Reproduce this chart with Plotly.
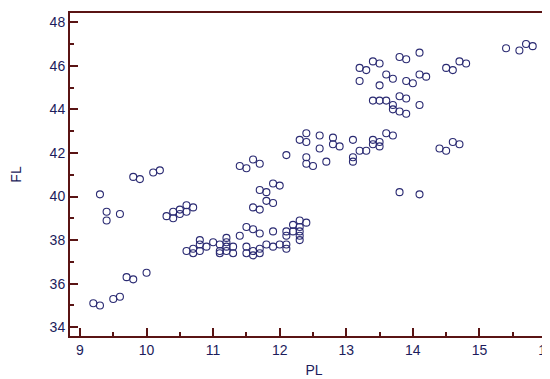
import plotly.graph_objects as go

PL = [9.2, 9.3, 9.5, 9.6, 9.7, 9.8, 10.0,
      9.3, 9.4, 9.4, 9.6,
      9.8, 9.9, 10.1, 10.2,
      10.3, 10.4, 10.4, 10.5, 10.5, 10.6, 10.6, 10.7,
      10.6, 10.7, 10.7, 10.8, 10.8, 10.8, 10.9, 11.0, 11.1, 11.1, 11.1,
      11.2, 11.2, 11.2, 11.2, 11.3, 11.3, 11.4, 11.5, 11.5, 11.5,
      11.6, 11.6, 11.6, 11.7, 11.7, 11.7, 11.8, 11.9, 11.9, 12.0,
      12.1, 12.1, 12.1, 12.1, 12.2, 12.2, 12.3, 12.3, 12.3, 12.3, 12.3, 12.4,
      11.4, 11.5, 11.6, 11.7,
      11.7, 11.8, 11.9, 12.0,
      11.6, 11.7, 11.8, 11.9,
      12.1, 12.3, 12.4, 12.4, 12.4, 12.4, 12.5, 12.6, 12.6, 12.7, 12.8, 12.8,
      12.9, 13.1, 13.1, 13.1, 13.2, 13.3, 13.4, 13.4, 13.5, 13.5, 13.6, 13.7,
      13.8, 14.1,
      14.4, 14.5, 14.6, 14.7,
      13.2, 13.3, 13.2, 13.4, 13.5, 13.5, 13.6, 13.7, 13.8, 13.9, 13.9, 14.0,
      14.1, 14.1, 14.2,
      13.4, 13.5, 13.6, 13.7, 13.7, 13.8, 13.9, 13.8, 13.9, 14.1,
      14.5, 14.6, 14.7, 14.8,
      15.4, 15.6, 15.7, 15.8]

FL = [35.1, 35.0, 35.3, 35.4, 36.3, 36.2, 36.5,
      40.1, 39.3, 38.9, 39.2,
      40.9, 40.8, 41.1, 41.2,
      39.1, 39.3, 39.0, 39.4, 39.2, 39.6, 39.3, 39.5,
      37.5, 37.6, 37.4, 38.0, 37.8, 37.5, 37.7, 37.9, 37.8, 37.5, 37.4,
      38.1, 37.9, 37.7, 37.5, 37.7, 37.4, 38.2, 38.6, 37.7, 37.4,
      38.5, 37.5, 37.3, 38.3, 37.6, 37.4, 37.8, 38.4, 37.7, 37.8,
      38.4, 38.2, 37.8, 37.6, 38.7, 38.4, 38.9, 38.6, 38.4, 38.2, 38.0, 38.8,
      41.4, 41.3, 41.7, 41.5,
      40.3, 40.2, 40.6, 40.5,
      39.5, 39.4, 39.8, 39.7,
      41.9, 42.6, 42.9, 42.5, 41.8, 41.5, 41.4, 42.8, 42.2, 41.6, 42.7, 42.4,
      42.3, 42.6, 41.8, 41.6, 42.1, 42.1, 42.6, 42.4, 42.5, 42.3, 42.9, 42.8,
      40.2, 40.1,
      42.2, 42.1, 42.5, 42.4,
      45.9, 45.8, 45.3, 46.2, 46.1, 45.1, 45.6, 45.4, 46.4, 46.3, 45.3, 45.2,
      46.6, 45.6, 45.5,
      44.4, 44.4, 44.4, 44.2, 44.0, 44.6, 44.5, 43.9, 43.8, 44.2,
      45.9, 45.8, 46.2, 46.1,
      46.8, 46.7, 47.0, 46.9]

axis_color = "#5a1414"
label_color = "#1c1c5c"

fig = go.Figure(go.Scatter(
    x=PL, y=FL, mode="markers",
    marker=dict(symbol="circle-open", size=7, color="#2a2a72",
                line=dict(width=1.1, color="#2a2a72")),
    showlegend=False, cliponaxis=False))

fig.update_layout(
    width=550, height=379,
    margin=dict(l=62, r=0, t=5, b=51),
    paper_bgcolor="white", plot_bgcolor="white",
    font=dict(family="Liberation Sans, Arial, sans-serif", size=14, color=label_color),
)

fig.update_xaxes(
    range=[8.85, 16.18], dtick=1, tick0=9, automargin=False,
    showgrid=False, zeroline=False,
    showline=True, linecolor=axis_color, linewidth=2, mirror=True,
    ticks="inside", ticklen=8, tickwidth=2, tickcolor=axis_color,
    minor=dict(dtick=0.5, ticks="inside", ticklen=4, tickwidth=1.5, tickcolor=axis_color, showgrid=False),
    tickfont=dict(size=14, color=label_color),
    title=dict(text="PL", font=dict(size=14, color=label_color), standoff=8),
)
fig.update_yaxes(
    range=[33.6, 48.42], dtick=2, tick0=34, automargin=False,
    showgrid=False, zeroline=False,
    showline=True, linecolor=axis_color, linewidth=2, mirror=False,
    ticks="inside", ticklen=8, tickwidth=2, tickcolor=axis_color,
    minor=dict(dtick=1, ticks="inside", ticklen=4, tickwidth=1.5, tickcolor=axis_color, showgrid=False),
    tickfont=dict(size=14, color=label_color),
    title=dict(text="FL", font=dict(size=14, color=label_color), standoff=32),
)

fig.write_html("out.html")
